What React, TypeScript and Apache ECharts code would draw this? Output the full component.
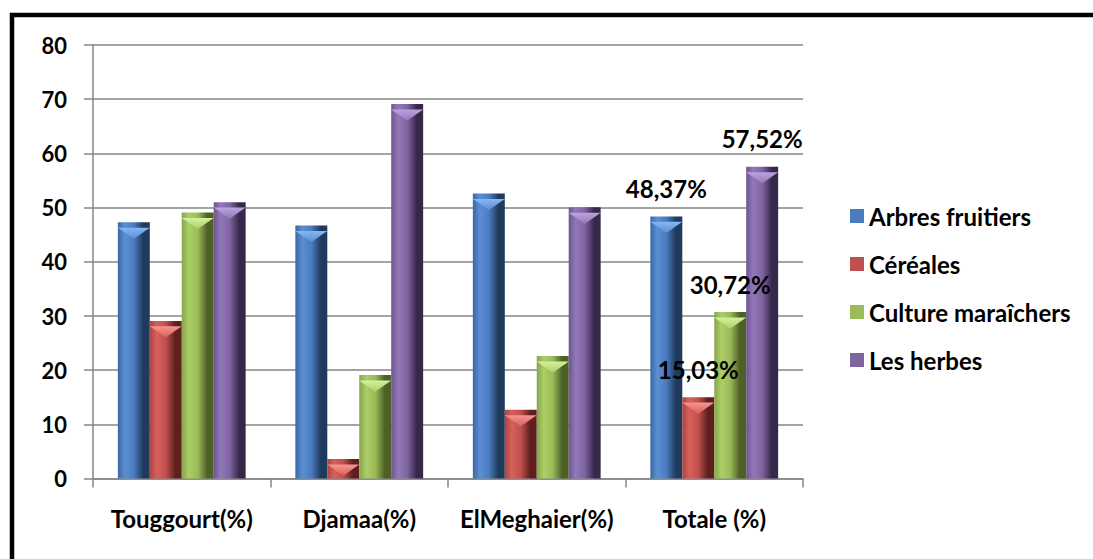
import React, { useEffect, useRef } from "react";
import * as echarts from "echarts";

// Share of each crop type per region (%)
const categories = ["Touggourt(%)", "Djamaa(%)", "ElMeghaier(%)", "Totale (%)"];
const seriesNames = ["Arbres fruitiers", "Céréales", "Culture maraîchers", "Les herbes"];
const arbresFruitiers = [47.3, 46.7, 52.6, 48.37];
const cereales = [29.1, 3.6, 12.7, 15.03];
const cultureMaraichers = [49.1, 19.1, 22.6, 30.72];
const lesHerbes = [51.0, 69.1, 50.05, 57.52];
const yTicks = { min: 0, max: 80, interval: 10 };

const FONT = "Lato, 'Noto Sans', sans-serif";

// light / base / dark shades for the bevelled columns
const palettes = [
  { edge: "#3a67a3", light: "#5b8fd3", base: "#4a7cbf", dark: "#203a5e", cap: "#86b6f5" },
  { edge: "#a84542", light: "#d8605c", base: "#c0504d", dark: "#5e1f1e", cap: "#f5968f" },
  { edge: "#86a44a", light: "#abcf66", base: "#9bbb59", dark: "#4d6026", cap: "#d4f29e" },
  { edge: "#6d5590", light: "#9378b8", base: "#8064a2", dark: "#362849", cap: "#bba3e0" },
];

const columnFill = (p: typeof palettes[number]) =>
  new echarts.graphic.LinearGradient(0, 0, 1, 0, [
    { offset: 0, color: p.edge },
    { offset: 0.22, color: p.light },
    { offset: 0.5, color: p.base },
    { offset: 0.8, color: p.dark },
    { offset: 1, color: p.dark },
  ]);

const capFill = (p: typeof palettes[number]) =>
  new echarts.graphic.LinearGradient(0, 0, 0, 1, [
    { offset: 0, color: p.cap },
    { offset: 1, color: p.light },
  ]);

export default function App() {
  const ref = useRef<HTMLDivElement>(null);

  useEffect(() => {
    if (!ref.current) return;
    const chart = echarts.init(ref.current, null, { renderer: "svg" });
    const values = [arbresFruitiers, cereales, cultureMaraichers, lesHerbes];
    const barGap = "0%";
    const barCategoryGap = "28%";

    const bars = values.map((data, i) => ({
      name: seriesNames[i],
      type: "bar",
      data,
      barGap,
      barCategoryGap,
      itemStyle: { color: columnFill(palettes[i]) },
      label: {
        show: true,
        position: "top",
        distance: 16,
        fontFamily: FONT,
        fontWeight: "bold",
        fontSize: 24,
        color: "#000",
        formatter: (p: any) =>
          p.dataIndex === 3 ? String(p.value).replace(".", ",") + "%" : "",
      },
      z: 2,
    }));

    // bevelled chevron at the top of each column
    const caps = values.map((data, i) => ({
      name: seriesNames[i] + " cap",
      type: "pictorialBar",
      data,
      barGap,
      barCategoryGap,
      symbol: "path://M0,0 L10,0 L5,4 Z",
      symbolSize: ["100%", 11],
      symbolPosition: "end",
      symbolOffset: [0, "50%"],
      itemStyle: { color: capFill(palettes[i]) },
      silent: true,
      z: 3,
    }));

    chart.setOption({
      animation: false,
      backgroundColor: "#ffffff",
      grid: { left: 93, right: 290, top: 45, bottom: 80.4 },
      legend: {
        data: seriesNames.map((n, i) => ({
          name: n,
          itemStyle: { color: palettes[i].base },
        })),
        orient: "vertical",
        left: 845,
        top: 197,
        icon: "rect",
        itemWidth: 14,
        itemHeight: 14,
        itemGap: 20,
        textStyle: {
          fontFamily: FONT,
          fontWeight: "bold",
          fontSize: 24,
          lineHeight: 28,
          color: "#000",
        },
      },
      xAxis: {
        type: "category",
        data: categories,
        axisLine: { lineStyle: { color: "#868686", width: 1.5 } },
        axisTick: { show: true, length: 9, lineStyle: { color: "#868686", width: 1.5 } },
        axisLabel: {
          interval: 0,
          margin: 28,
          fontFamily: FONT,
          fontWeight: "bold",
          fontSize: 24,
          color: "#000",
        },
      },
      yAxis: {
        type: "value",
        min: yTicks.min,
        max: yTicks.max,
        interval: yTicks.interval,
        axisLine: { show: true, lineStyle: { color: "#868686", width: 1.5 } },
        axisTick: { show: true, length: 9, lineStyle: { color: "#868686", width: 1.5 } },
        splitLine: { lineStyle: { color: "#868686", width: 1.5 } },
        axisLabel: {
          margin: 26,
          fontFamily: FONT,
          fontWeight: "bold",
          fontSize: 22,
          color: "#000",
        },
      },
      graphic: [
        {
          type: "rect",
          shape: { x: 12, y: 15, width: 1200, height: 700 },
          style: { fill: "none", stroke: "#000", lineWidth: 4.5 },
          silent: true,
          z: 10,
        },
      ],
      series: [...bars, ...caps],
    });

    return () => chart.dispose();
  }, []);

  return (
    <div
      ref={ref}
      style={{
        position: "fixed",
        left: 0,
        top: 0,
        width: 1093,
        height: 559,
        background: "#fff",
      }}
    />
  );
}
